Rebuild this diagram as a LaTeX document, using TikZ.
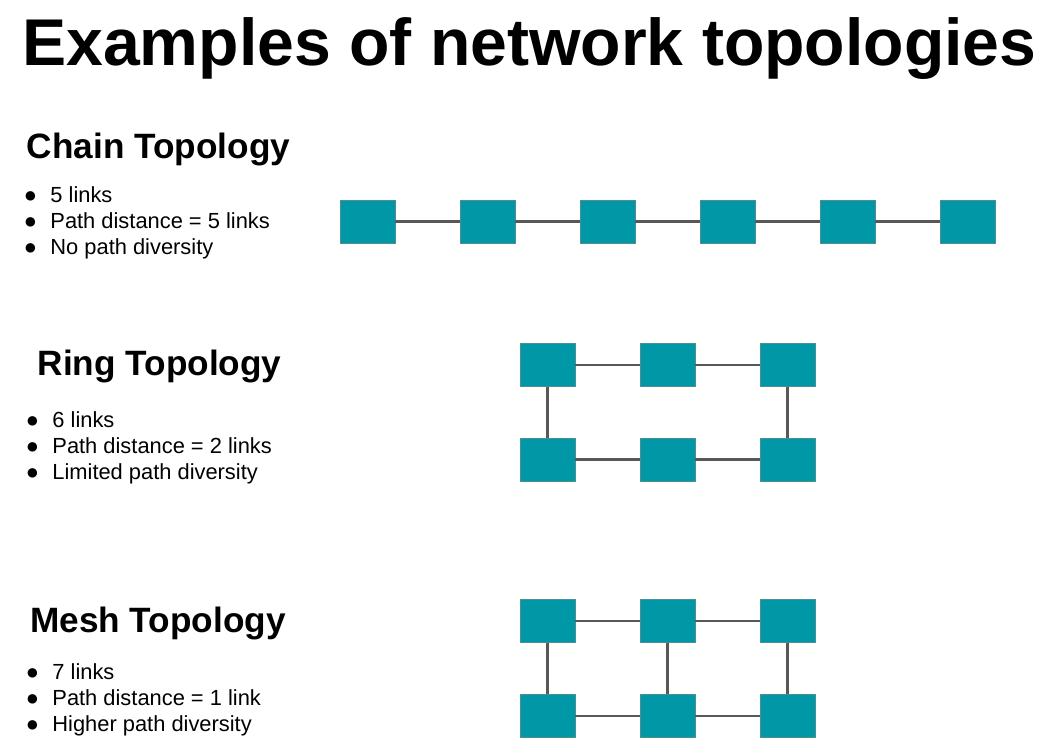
\documentclass[tikz,border=0pt]{standalone}
\usepackage{fontspec}
\setmainfont{Liberation Sans}
\usepackage{xcolor}
\usepackage{tikz}
\usetikzlibrary{
    positioning
}
\definecolor{switchteal}{RGB}{0,151,167}
\definecolor{switchedge}{RGB}{84,140,148}
\definecolor{linkgray}{RGB}{88,88,88}
\tikzset{
  switch/.style = {
      draw=switchedge,
      fill=switchteal,
      rectangle,
      line width=0.6pt,
      inner sep=0pt,
      minimum width=41.25pt,
      minimum height=32.25pt
  },
  link/.style = {
      draw=linkgray,
      line width=1.7pt
  },
  title/.style = {
      font=\bfseries\fontsize{49.6}{58}\selectfont,
      inner sep=0pt,
      anchor=base west
  },
  heading/.style = {
      font=\bfseries\fontsize{26.4}{31}\selectfont,
      inner sep=0pt,
      anchor=base west
  },
  item/.style = {
      font=\fontsize{16.4}{20}\selectfont,
      inner sep=0pt,
      anchor=base west
  }
}
\newcommand{\bul}{\makebox[20pt][l]{●}}

\begin{document}
\begin{tikzpicture}[x=0.75pt, y=-0.75pt, node distance=90pt]
        \useasboundingbox (0,0) rectangle (1046,751);
        \node[title] (T) at (22,65) {Examples of network topologies};
        % Chain
        \node[heading] (CH) at (26.5,158) {Chain Topology};
        \node[item] (C1) at (23.5,202) {\bul 5 links};
        \node[item] (C2) at (23.5,228) {\bul Path distance = 5 links};
        \node[item] (C3) at (23.5,254) {\bul No path diversity};
        \node[switch] (a1) at (367.5,221.5) {};
        \node[switch, right of=a1] (a2) {};
        \node[switch, right of=a2] (a3) {};
        \node[switch, right of=a3] (a4) {};
        \node[switch, right of=a4] (a5) {};
        \node[switch, right of=a5] (a6) {};
        \path[link] (a1) -- (a2) (a2) -- (a3) (a3) -- (a4)
        (a4) -- (a5) (a5) -- (a6);
        % Ring
        \node[heading] (RH) at (37.5,375) {Ring Topology};
        \node[item] (R1) at (25.5,427) {\bul 6 links};
        \node[item] (R2) at (25.5,453) {\bul Path distance = 2 links};
        \node[item] (R3) at (25.5,479) {\bul Limited path diversity};
        \node[switch] (b1) at (547.5,365) {};
        \node[switch, right of=b1] (b2) {};
        \node[switch, right of=b2] (b3) {};
        \node[switch, below of=b1, node distance=70.9pt] (b4) {};
        \node[switch, right of=b4] (b5) {};
        \node[switch, right of=b5] (b6) {};
        \path[link] (b1) -- (b2) (b2) -- (b3) (b3) -- (b6)
        (b6) -- (b5) (b5) -- (b4) (b4) -- (b1);
        % Mesh
        \node[heading] (MH) at (30,632) {Mesh Topology};
        \node[item] (M1) at (25.5,679) {\bul 7 links};
        \node[item] (M2) at (25.5,705) {\bul Path distance = 1 link};
        \node[item] (M3) at (25.5,731) {\bul Higher path diversity};
        \node[switch] (c1) at (547.5,621) {};
        \node[switch, right of=c1] (c2) {};
        \node[switch, right of=c2] (c3) {};
        \node[switch, below of=c1, node distance=71.25pt] (c4) {};
        \node[switch, right of=c4] (c5) {};
        \node[switch, right of=c5] (c6) {};
        \path[link] (c1) -- (c2) (c2) -- (c3) (c3) -- (c6)
        (c6) -- (c5) (c5) -- (c4) (c4) -- (c1) (c2) -- (c5);
\end{tikzpicture}
\end{document}
